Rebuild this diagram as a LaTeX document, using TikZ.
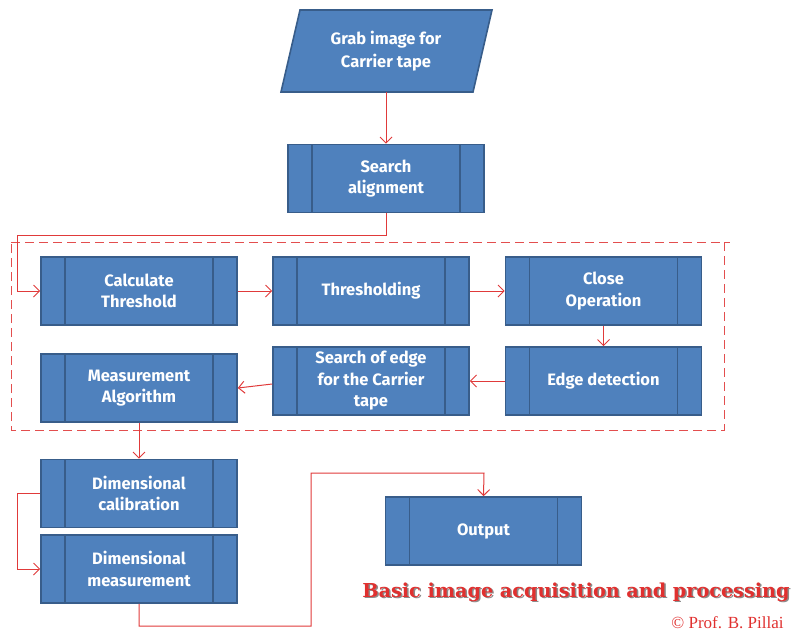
\documentclass[tikz,border=0pt]{standalone}
\usepackage{fontspec}
\usepackage{xcolor}
\usepackage{tikz}
\usetikzlibrary{arrows.meta}
\usetikzlibrary{calc}

\newfontfamily\boxfont{Fira Sans}
\newfontfamily\titlefont{DejaVu Serif}
\newfontfamily\creditfont{Liberation Serif}

\definecolor{procfill}{HTML}{4F81BD}
\definecolor{procborder}{HTML}{385D8A}
\definecolor{flowred}{HTML}{E03A3A}
\definecolor{titlered}{HTML}{E0302F}

\tikzset{
  proc/.style={draw=procborder, line width=1.6pt, fill=procfill,
    minimum width=196pt, minimum height=68pt, inner sep=2pt,
    text=white, align=center, font=\boxfont\bfseries\fontsize{16.5}{21.5}\selectfont,
    path picture={
      \draw[procborder, line width=1.6pt]
        ([xshift=24pt]path picture bounding box.north west) -- ([xshift=24pt]path picture bounding box.south west)
        ([xshift=-24pt]path picture bounding box.north east) -- ([xshift=-24pt]path picture bounding box.south east);
    }},
  flow/.style={draw=flowred, line width=1pt, -{Straight Barb[length=6pt,width=12pt]}}
}

\begin{document}
\begin{tikzpicture}[x=1pt,y=-1pt]
    \useasboundingbox (0,0) rectangle (798,633);

    % input
    \filldraw[draw=procborder, line width=1.6pt, fill=procfill] (300,10) -- (492,10) -- (473,92) -- (281,92) -- cycle;
    \node[minimum height=82pt, text=white, align=center, font=\boxfont\bfseries\fontsize{16.5}{23}\selectfont] (grab) at (386,51) {Grab image for\\Carrier tape};

    \node[proc] (align) at (386,178.5) {Search\\alignment};

    % processing group
    \draw[flowred!90, line width=1pt, dash pattern=on 9pt off 5pt] (11,242) -- (730,242);
    \draw[flowred!90, line width=1pt, dash pattern=on 9pt off 5pt] (724,242) -- (724,430) -- (11,430) -- (11,242);

    \node[proc] (calc) at (139,291) {Calculate\\Threshold};
    \node[proc] (thr) at (371,291) {Thresholding};
    \node[proc] (close) at (603.5,291) {Close\\Operation};
    \node[proc] (meas) at (139,388) {Measurement\\Algorithm};
    \node[proc] (sedge) at (371,381) {Search of edge\\for the Carrier\\tape};
    \node[proc] (edge) at (603.5,381) {Edge detection};

    \node[proc] (dcal) at (139,493.5) {Dimensional\\calibration};
    \node[proc] (dmeas) at (139,569) {Dimensional\\measurement};
    \node[proc] (out) at (483.5,531) {Output};

    % connectors
    \draw[flow] (grab.south) -- (align.north);
    \draw[flow] (align.south) |- (17,235) |- (calc.west);
    \draw[flow] (calc.east) -- (thr.west);
    \draw[flow] (thr.east) -- (close.west);
    \draw[flow] (close.south) -- (edge.north);
    \draw[flow] (edge.west) -- (sedge.west -| sedge.east);
    \draw[flow] ($(sedge.west)+(0,3)$) -- (meas.east);
    \draw[flow] (meas.south) -- (dcal.north);
    \draw[flow] (dcal.west) -| (17,569) -- (dmeas.west);
    \draw[flow] (dmeas.south) |- (311,626) |- (484,473) -- (out.north);

    % caption
    \node[text=black!45, font=\titlefont\bfseries\fontsize{19.2}{22}\selectfont] at (577.5,593.5) {Basic image acquisition and processing};
    \node[text=titlered, font=\titlefont\bfseries\fontsize{19.2}{22}\selectfont] (title) at (576,592) {Basic image acquisition and processing};
    \node[text=titlered, font=\creditfont\fontsize{17}{18}\selectfont] (credit) at (727.5,623) {\textcopyright{} Prof. B. Pillai};
\end{tikzpicture}
\end{document}
